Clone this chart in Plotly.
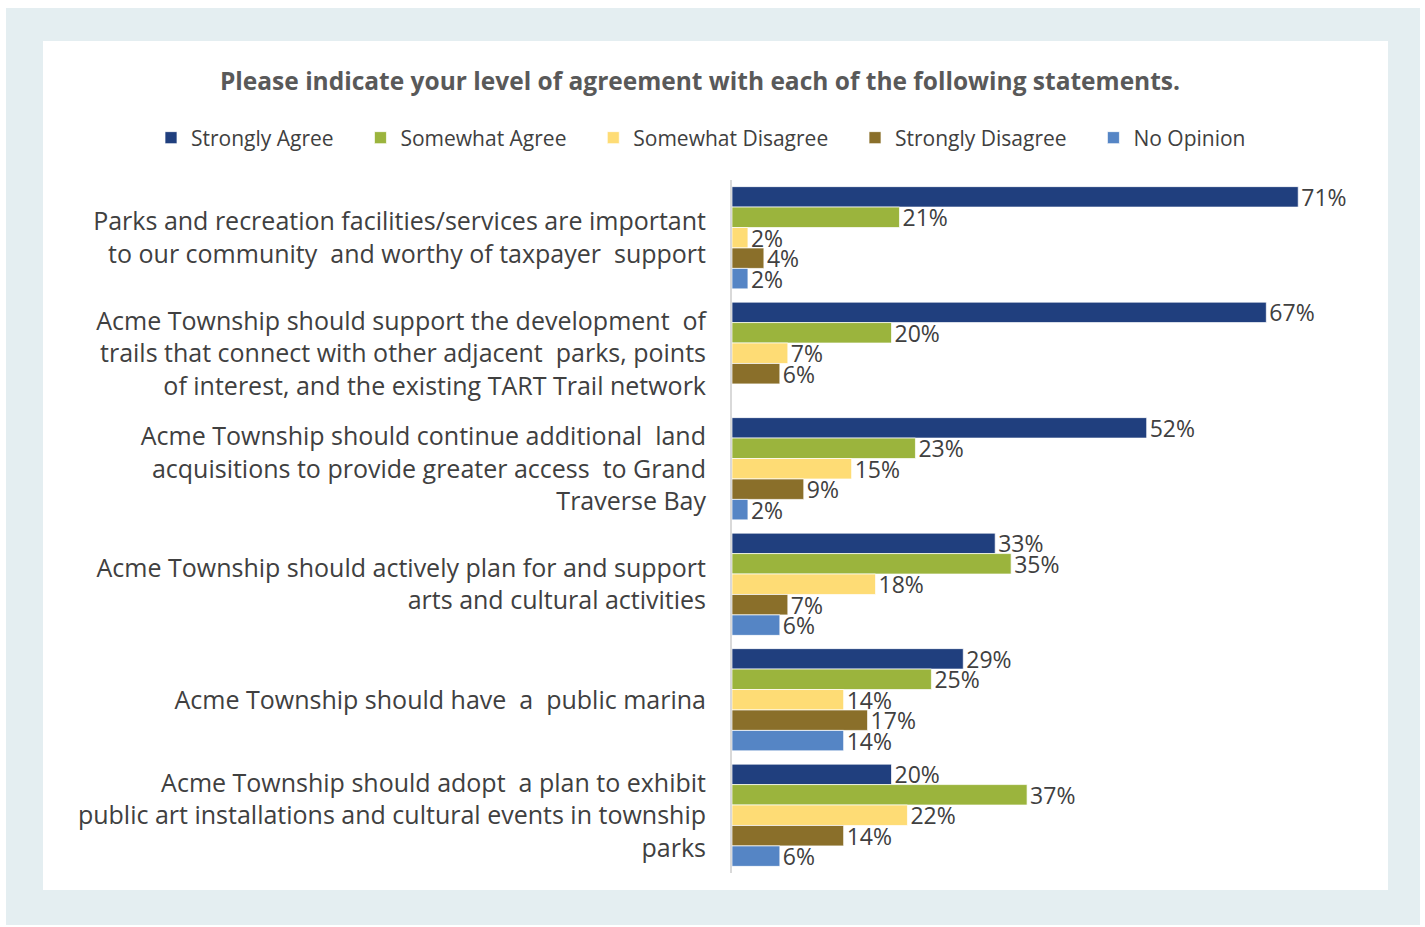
import plotly.graph_objects as go

categories = [
    "Parks and recreation facilities/services are important<br>to our community  and worthy of taxpayer  support",
    "Acme Township should support the development  of<br>trails that connect with other adjacent  parks, points<br>of interest, and the existing TART Trail network",
    "Acme Township should continue additional  land<br>acquisitions to provide greater access  to Grand<br>Traverse Bay",
    "Acme Township should actively plan for and support<br>arts and cultural activities",
    "Acme Township should have  a  public marina",
    "Acme Township should adopt  a plan to exhibit<br>public art installations and cultural events in township<br>parks",
]
series_names = ["Strongly Agree", "Somewhat Agree", "Somewhat Disagree", "Strongly Disagree", "No Opinion"]
strongly_agree = [71, 67, 52, 33, 29, 20]
somewhat_agree = [21, 20, 23, 35, 25, 37]
somewhat_disagree = [2, 7, 15, 18, 14, 22]
strongly_disagree = [4, 6, 9, 7, 17, 14]
no_opinion = [2, None, 2, 6, 14, 6]
series_values = [strongly_agree, somewhat_agree, somewhat_disagree, strongly_disagree, no_opinion]
colors = ["#203f7e", "#9bb43d", "#fedc75", "#8a6f2a", "#5585c5"]

W, H = 1425, 927
L, R, T, B = 732, 55, 180, 54
pw, ph = W - L - R, H - T - B

def px_x(p):
    return (p - L) / pw

def px_y(p):
    return 1 - (p - T) / ph

fig = go.Figure()
for name, vals, col in zip(series_names, series_values, colors):
    fig.add_trace(go.Bar(
        y=categories, x=vals, name=name + "    ", orientation="h",
        marker=dict(color=col, line=dict(color="rgba(255,255,255,0.7)", width=1)),
        text=[("%d%%" % v) if v is not None else "" for v in vals],
        textposition="outside", constraintext="none", cliponaxis=False,
        textfont=dict(family="Open Sans", size=23, color="#404040"),
        hoverinfo="skip",
    ))

shapes = [
    dict(type="rect", xref="paper", yref="paper", layer="below",
         x0=px_x(6), x1=px_x(1420), y0=px_y(8), y1=px_y(925),
         fillcolor="#e4eef1", line=dict(width=0)),
    dict(type="rect", xref="paper", yref="paper", layer="below",
         x0=px_x(43), x1=px_x(1388), y0=px_y(41), y1=px_y(890),
         fillcolor="#ffffff", line=dict(width=0)),
]

fig.update_layout(
    width=W, height=H,
    margin=dict(l=L, r=R, t=T, b=B, pad=0),
    paper_bgcolor="#ffffff", plot_bgcolor="rgba(0,0,0,0)",
    barmode="group", bargap=0.115, bargroupgap=0,
    shapes=shapes,
    title=dict(text="<b>Please indicate your level of agreement with each of the following statements.</b>",
               x=700 / W, xanchor="center", y=1 - 81 / H, yanchor="middle", xref="container", yref="container",
               font=dict(family="Open Sans", size=24.5, color="#595959")),
    legend=dict(orientation="h", x=px_x(151), xanchor="left", y=px_y(138), yanchor="middle",
                font=dict(family="Open Sans", size=21, color="#404040"),
                itemwidth=30, traceorder="normal", bgcolor="rgba(0,0,0,0)"),
    showlegend=True,
    xaxis=dict(range=[0, 80], visible=False, fixedrange=True),
    yaxis=dict(autorange="reversed", showgrid=False, zeroline=False,
               showline=True, linecolor="#d9d9d9", linewidth=2,
               ticks="", ticklabelstandoff=19,
               tickfont=dict(family="Open Sans", size=25, color="#404040")),
)

fig.write_html("out.html", config={"displayModeBar": False},
               post_script="document.body.style.margin='0';")
